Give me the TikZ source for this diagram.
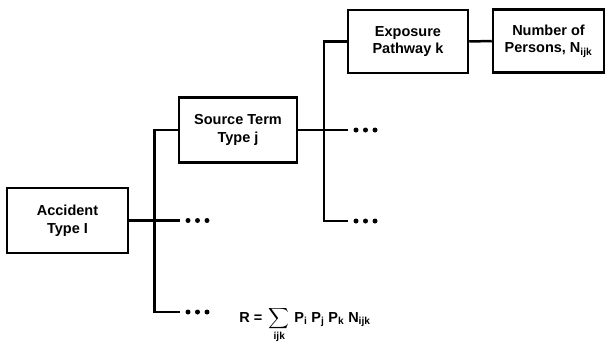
\documentclass[tikz,border=0pt]{standalone}
\usepackage{amsmath}
\usepackage{fontspec}
\setmainfont{Liberation Sans}
\newcommand{\mydots}[1]{\foreach \d in {8,17.5,27} {\fill ([xshift=\d pt]#1) circle (2.5pt);}}
\tikzset{
  box/.style={draw, line width=2.5pt, fill=white, align=center, inner sep=0pt,
    font=\fontsize{14.5}{17.5}\selectfont\bfseries},
  conn/.style={line width=2.5pt},
  formula/.style={inner sep=0pt, font=\fontsize{14.5}{17.5}\selectfont\bfseries}
}
\begin{document}
\begin{tikzpicture}[x=1pt,y=-1pt]
\useasboundingbox (0,0) rectangle (606,362);
\node[box, minimum width=121pt, minimum height=65pt] (acc) at (67.5,220.5) {Accident\\Type I};
\node[box, minimum width=118pt, minimum height=65pt] (src) at (238,130) {Source Term\\Type j};
\node[box, minimum width=120pt, minimum height=63pt] (exp) at (408,41.5) {Exposure\\Pathway k};
\node[box, minimum width=111pt, minimum height=63pt] (num) at (548.5,41) {Number of\\Persons, N\textsubscript{ijk}};
\coordinate (t1) at (154.5,312);
\coordinate (e1m) at (180,220.5);
\coordinate (e1b) at (180,312);
\coordinate (t2) at (324,221);
\coordinate (e2m) at (348,130);
\coordinate (e2b) at (348,221);
\draw[conn] (src.west) -| (t1) -- (e1b);
\draw[conn] (acc.east) -- (e1m);
\draw[conn] (exp.west) -| (t2) -- (e2b);
\draw[conn] (src.east) -- (e2m);
\draw[conn] (exp.east) -- (num.west);
\mydots{e1m}
\mydots{e1b}
\mydots{e2m}
\mydots{e2b}
\node[formula, anchor=base] (f) at (305,322) {$\text{R = }\displaystyle\sum_{\text{ijk}}\,\text{P}_{\text{i}}\;\text{P}_{\text{j}}\;\text{P}_{\text{k}}\;\text{N}_{\text{ijk}}$};
\end{tikzpicture}
\end{document}
